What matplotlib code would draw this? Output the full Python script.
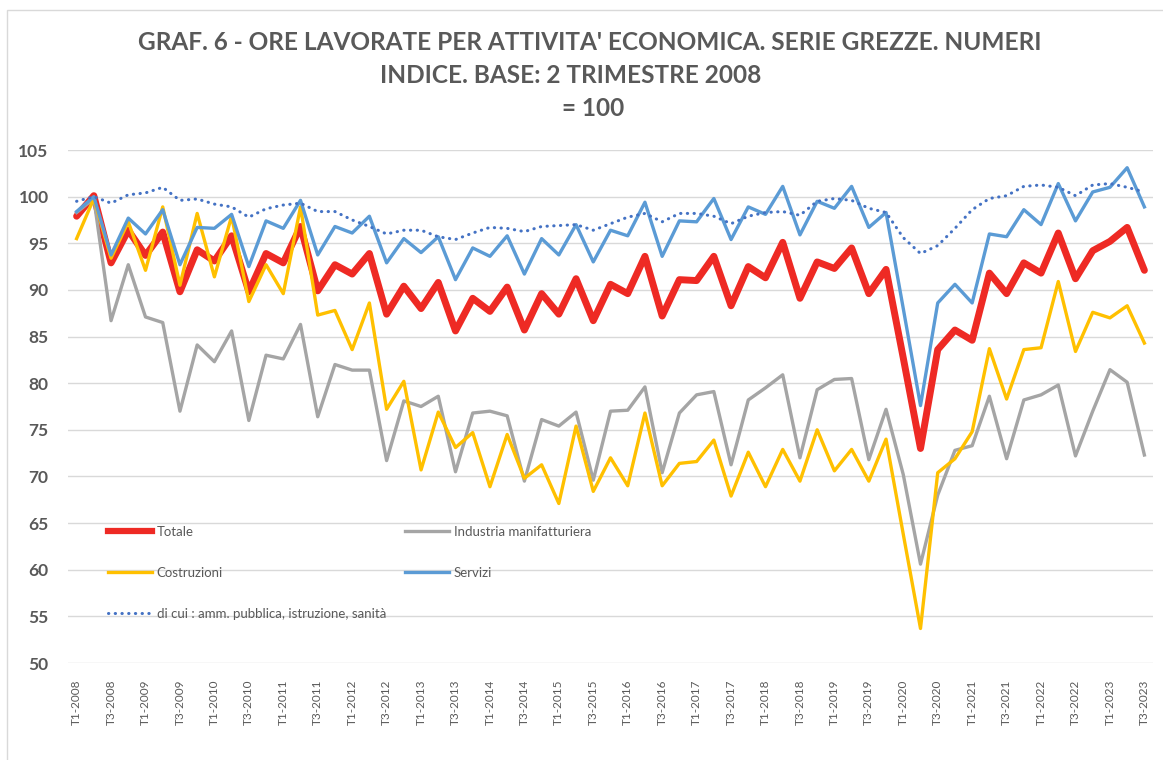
import matplotlib
matplotlib.use("Agg")
import matplotlib.pyplot as plt
from matplotlib.lines import Line2D
from matplotlib.patches import Rectangle

# ---------------- data ----------------
years = list(range(2008, 2024))
quarters = [f"T{q}-{y}" for y in years for q in (1, 2, 3, 4)][:63]

totale = [97.9, 100.1, 92.9, 96.4, 93.7, 96.2, 89.8, 94.3, 93.1, 95.8, 89.8, 93.9, 92.9, 96.8,
          89.9, 92.7, 91.7, 93.9, 87.4, 90.4, 88.0, 90.8, 85.6, 89.1, 87.7, 90.3, 85.7, 89.6,
          87.4, 91.2, 86.7, 90.6, 89.6, 93.6, 87.2, 91.1, 91.0, 93.6, 88.3, 92.5, 91.3, 95.1,
          89.1, 93.0, 92.3, 94.5, 89.6, 92.2, 82.7, 73.0, 83.6, 85.7, 84.6, 91.8, 89.6, 92.9,
          91.8, 96.1, 91.2, 94.2, 95.2, 96.7, 92.1]
industria = [98.3, 99.8, 86.7, 92.7, 87.1, 86.5, 77.0, 84.1, 82.3, 85.6, 76.0, 83.0, 82.6, 86.3,
             76.4, 82.0, 81.4, 81.4, 71.7, 78.1, 77.5, 78.6, 70.5, 76.8, 77.0, 76.5, 69.5, 76.1,
             75.4, 76.9, 69.6, 77.0, 77.1, 79.6, 70.4, 76.8, 78.75, 79.1, 71.25, 78.2, 79.5, 80.9,
             72.0, 79.3, 80.4, 80.5, 71.8, 77.2, 70.2, 60.6, 68.0, 72.8, 73.3, 78.6, 71.9, 78.2,
             78.75, 79.8, 72.2, 77.0, 81.45, 80.1, 72.3]
costruzioni = [95.5, 99.8, 93.4, 97.3, 92.1, 98.9, 90.5, 98.2, 91.4, 97.9, 88.75, 92.7, 89.6, 98.9,
               87.3, 87.8, 83.6, 88.6, 77.2, 80.2, 70.7, 76.9, 73.1, 74.7, 68.9, 74.5, 69.8, 71.25,
               67.1, 75.4, 68.4, 72.0, 69.0, 76.8, 69.0, 71.4, 71.6, 73.9, 67.9, 72.6, 68.9, 72.9,
               69.5, 75.0, 70.6, 72.9, 69.5, 74.0, 63.8, 53.7, 70.4, 71.9, 74.8, 83.7, 78.3, 83.6,
               83.8, 90.9, 83.4, 87.6, 87.0, 88.3, 84.3]
servizi = [98.4, 100.0, 93.75, 97.7, 96.0, 98.6, 92.7, 96.7, 96.6, 98.1, 92.5, 97.4, 96.6, 99.6,
           93.75, 96.8, 96.1, 97.9, 92.9, 95.5, 94.0, 95.7, 91.1, 94.5, 93.6, 95.8, 91.7, 95.5,
           93.75, 97.0, 93.0, 96.4, 95.8, 99.4, 93.6, 97.4, 97.3, 99.8, 95.4, 98.9, 98.1, 101.1,
           95.9, 99.5, 98.75, 101.1, 96.7, 98.3, 88.0, 77.6, 88.6, 90.6, 88.6, 96.0, 95.7, 98.6,
           97.0, 101.4, 97.4, 100.5, 101.0, 103.1, 98.9]
dicui = [99.5, 100.0, 99.3, 100.2, 100.4, 101.0, 99.6, 99.75, 99.2, 98.9, 97.8, 98.7, 99.1, 99.3,
         98.4, 98.4, 97.5, 96.8, 96.0, 96.4, 96.4, 95.7, 95.4, 96.1, 96.7, 96.6, 96.25, 96.8,
         96.9, 97.0, 96.4, 97.1, 97.8, 98.2, 97.3, 98.2, 98.2, 97.9, 97.1, 97.9, 98.3, 98.4,
         98.0, 99.5, 99.8, 99.6, 98.75, 98.3, 95.6, 93.9, 94.75, 96.6, 98.6, 99.8, 100.1, 101.1,
         101.25, 101.0, 100.1, 101.25, 101.4, 101.0, 100.5]

labels = ["Totale", "Industria manifatturiera", "Costruzioni", "Servizi",
          "di cui : amm. pubblica, istruzione, sanità"]
title_lines = ["GRAF. 6 - ORE LAVORATE PER ATTIVITA' ECONOMICA. SERIE GREZZE. NUMERI",
               "INDICE. BASE: 2 TRIMESTRE 2008",
               "= 100"]
yticks = [50, 55, 60, 65, 70, 75, 80, 85, 90, 95, 100, 105]

# ---------------- style ----------------
C_RED = "#EE2A24"
C_GRAY = "#A5A5A5"
C_GOLD = "#FFC000"
C_BLUE = "#5B9BD5"
C_DOT = "#4472C4"
C_TEXT = "#595959"
C_GRID = "#D9D9D9"

W, H = 1163, 760
fig = plt.figure(figsize=(W / 100, H / 100), dpi=100)
fig.patch.set_facecolor("white")

# chart-area border
fig.patches.append(Rectangle((7 / W, -0.1), 1.2, 1 - 10 / H + 0.1, transform=fig.transFigure,
                             fill=False, edgecolor=C_GRID, linewidth=1.0))

ax = fig.add_axes([68 / W, 1 - 663 / H, (1153 - 68) / W, (663 - 150) / H])
x = list(range(len(quarters)))

ax.plot(x, totale, color=C_RED, lw=5.0, solid_joinstyle="round", solid_capstyle="round", zorder=3)
ax.plot(x, industria, color=C_GRAY, lw=2.4, solid_joinstyle="round", zorder=3)
ax.plot(x, costruzioni, color=C_GOLD, lw=2.4, solid_joinstyle="round", zorder=3)
ax.plot(x, servizi, color=C_BLUE, lw=2.4, solid_joinstyle="round", zorder=3)
ax.plot(x, dicui, color=C_DOT, lw=2.2, linestyle=(0, (0.1, 2.1)), dash_capstyle="round", zorder=3)

ax.set_xlim(-0.5, len(quarters) - 0.5)
ax.set_ylim(50, 105)
ax.set_yticks(yticks)
ax.set_yticklabels([str(v) for v in yticks], fontfamily="Lato", fontweight="bold",
                   fontsize=12.5, color=C_TEXT)
ax.set_xticks(x[::2])
ax.set_xticklabels(quarters[::2], rotation=90, fontfamily="Lato", fontsize=8.5, color=C_TEXT)
ax.tick_params(axis="both", length=0)
ax.tick_params(axis="x", pad=12)
ax.tick_params(axis="y", pad=14)
ax.grid(axis="y", color=C_GRID, linewidth=1.0, zorder=0)
for s in ax.spines.values():
    s.set_visible(False)
ax.set_axisbelow(True)

# legend (two column blocks)
hd1 = [Line2D([], [], color=C_RED, lw=4.5),
       Line2D([], [], color=C_GOLD, lw=2.4),
       Line2D([], [], color=C_DOT, lw=2.2, linestyle=(0, (0.1, 2.1)), dash_capstyle="round")]
hd2 = [Line2D([], [], color=C_GRAY, lw=2.4),
       Line2D([], [], color=C_BLUE, lw=2.4)]
common = dict(loc="upper left", frameon=False, borderpad=0, borderaxespad=0,
              handlelength=3.3, handletextpad=0.4, labelspacing=2.2,
              prop={"family": "Lato", "size": 9.5}, labelcolor=C_TEXT)
leg1 = fig.legend(hd1, [labels[0], labels[2], labels[4]],
                  bbox_to_anchor=(108 / W, 1 - 526 / H), **common)
leg2 = fig.legend(hd2, [labels[1], labels[3]],
                  bbox_to_anchor=(405 / W, 1 - 526 / H), **common)

# title
tkw = dict(fontfamily="Lato", fontweight="bold", fontsize=17.6, color=C_TEXT, ha="center",
           va="baseline", transform=fig.transFigure)
fig.text(590 / W, 1 - 50 / H, title_lines[0], **tkw)
fig.text(571 / W, 1 - 83 / H, title_lines[1], **tkw)
fig.text(593 / W, 1 - 116 / H, title_lines[2], **tkw)

fig.savefig("out.png", dpi=100, facecolor="white")
